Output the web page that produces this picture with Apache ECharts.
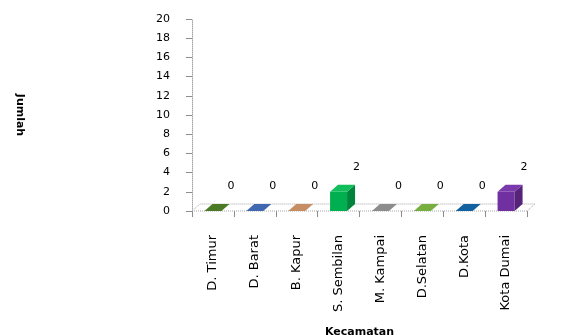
<!DOCTYPE html>
<html>
<head>
<meta charset="utf-8">
<script src="https://cdn.jsdelivr.net/npm/echarts@6/dist/echarts.min.js"></script>
<style>
  html, body { margin: 0; padding: 0; background: #fff; }
  #chart { width: 571px; height: 335px; }
</style>
</head>
<body>
<div id="chart"></div>
<script>
// Kecamatan (district) names and counts per district
const categories = ['D. Timur', 'D. Barat', 'B. Kapur', 'S. Sembilan', 'M. Kampai', 'D.Selatan', 'D.Kota', 'Kota Dumai'];
const values = [0, 0, 0, 2, 0, 0, 0, 2];
const yTicks = [0, 2, 4, 6, 8, 10, 12, 14, 16, 18, 20];

// Per-bar colours: front, top, side faces
const frontColors = ['#4a7a25', '#3f68b0', '#c58e64', '#00b050', '#8c8c8c', '#78ad3f', '#11609f', '#7030a0'];
const topColors   = ['#3d6a1e', '#3a5fa3', '#b98057', '#12bd5c', '#808080', '#6ea23a', '#0e5590', '#7b3aab'];
const sideColors  = ['#2f5416', '#2d4d87', '#9c6b48', '#00843c', '#6e6e6e', '#5a8a2e', '#0a4678', '#552379'];

const BAR_W = 17, DEPTH_X = 8, DEPTH_Y = -7;

function renderBar(params, api) {
  const idx = api.value(0);
  const v = api.value(1);
  const base = api.coord([idx, 0]);
  const top = api.coord([idx, v]);
  const left = base[0] - BAR_W / 2;
  const children = [];
  if (v > 0) {
    children.push({
      type: 'rect',
      shape: { x: left, y: top[1], width: BAR_W, height: base[1] - top[1] },
      style: { fill: frontColors[idx] }
    });
    children.push({
      type: 'polygon',
      shape: { points: [[left + BAR_W, top[1]], [left + BAR_W + DEPTH_X, top[1] + DEPTH_Y], [left + BAR_W + DEPTH_X, base[1] + DEPTH_Y], [left + BAR_W, base[1]]] },
      style: { fill: sideColors[idx] }
    });
  }
  children.push({
    type: 'polygon',
    shape: { points: [[left, top[1]], [left + BAR_W, top[1]], [left + BAR_W + DEPTH_X, top[1] + DEPTH_Y], [left + DEPTH_X, top[1] + DEPTH_Y]] },
    style: { fill: v > 0 ? topColors[idx] : frontColors[idx] }
  });
  children.push({
    type: 'text',
    style: {
      text: String(v),
      x: base[0] + 18,
      y: top[1] - 19,
      fill: '#000',
      font: '11px "DejaVu Sans"',
      align: 'center',
      verticalAlign: 'bottom'
    }
  });
  return { type: 'group', children: children };
}

// Floor plane drawn from the grid rectangle
function renderFloor(params, api) {
  const cs = params.coordSys;
  const y0 = cs.y + cs.height;
  const x0 = cs.x, x1 = cs.x + cs.width;
  return {
    type: 'polygon',
    silent: true,
    z2: -1,
    shape: { points: [[x0, y0], [x1, y0], [x1 + DEPTH_X, y0 + DEPTH_Y], [x0 + DEPTH_X, y0 + DEPTH_Y]] },
    style: { fill: '#ffffff', stroke: '#a6a6a6', lineWidth: 1, lineDash: [1, 1] }
  };
}

const chart = echarts.init(document.getElementById('chart'), null, { renderer: 'canvas' });
chart.setOption({
  animation: false,
  backgroundColor: '#ffffff',
  grid: { left: 192, right: 44, top: 19, bottom: 124, containLabel: false, outerBoundsMode: 'none' },
  xAxis: {
    type: 'category',
    data: categories,
    name: 'Kecamatan',
    nameLocation: 'middle',
    nameGap: 116,
    nameTextStyle: { fontFamily: 'DejaVu Sans', fontSize: 11, fontWeight: 'bold', color: '#000' },
    axisLine: { show: false },
    axisTick: { show: true, length: 6, lineStyle: { color: '#8c8c8c' } },
    axisLabel: { rotate: 90, margin: 24, fontFamily: 'DejaVu Sans', fontSize: 13, color: '#000' },
    splitLine: { show: false }
  },
  yAxis: {
    type: 'value',
    min: yTicks[0],
    max: yTicks[yTicks.length - 1],
    interval: 2,
    name: 'Jumlah',
    nameLocation: 'middle',
    nameRotate: -90,
    nameGap: 167,
    nameTextStyle: { fontFamily: 'DejaVu Sans', fontSize: 11, fontWeight: 'bold', color: '#000' },
    axisLine: { show: true, lineStyle: { color: '#a6a6a6', type: [1, 1] } },
    axisTick: { show: true, length: 6, lineStyle: { color: '#8c8c8c' } },
    axisLabel: { margin: 22, fontFamily: 'DejaVu Sans', fontSize: 11, color: '#000',
      formatter: function (v) { return yTicks.indexOf(v) >= 0 ? String(v) : ''; } },
    splitLine: { show: false }
  },
  series: [
    {
      type: 'custom',
      renderItem: renderFloor,
      data: [[0, 0]],
      z: 1,
      silent: true
    },
    {
      type: 'custom',
      renderItem: renderBar,
      data: values.map(function (v, i) { return [i, v]; }),
      encode: { x: 0, y: 1 },
      z: 2
    }
  ]
});
</script>
</body>
</html>
